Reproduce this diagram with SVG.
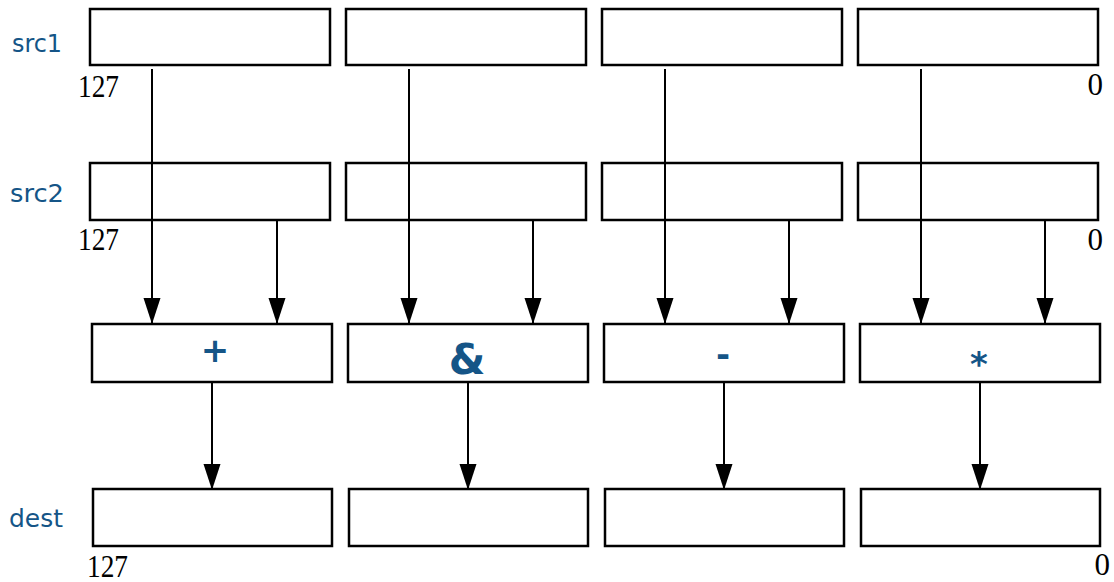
<svg xmlns="http://www.w3.org/2000/svg" width="1114" height="582" viewBox="0 0 1114 582">
  <style>
    .box { fill: #ffffff; stroke: #000000; stroke-width: 2.5; }
    .wire { stroke: #000000; stroke-width: 2; fill: none; }
    .lbl { font-family: "DejaVu Sans", "Noto Sans", sans-serif; font-size: 24px; fill: #155587; }
    .op { font-family: "DejaVu Sans", "Noto Sans", sans-serif; font-size: 34px; font-weight: bold; fill: #155587; text-anchor: middle; }
    .amp { font-size: 42px; }
    .bit { font-family: "Liberation Serif", "DejaVu Serif", serif; font-size: 31px; fill: #000000; }
  </style>
  <defs>
    <marker id="arrow" markerUnits="userSpaceOnUse" markerWidth="27" markerHeight="18" refX="26" refY="8.5" orient="auto">
      <path d="M0,0 L26,8.5 L0,17 Z" fill="#000000"/>
    </marker>
  </defs>

  <!-- row labels -->
  <g id="labels">
    <text class="lbl" x="12" y="52" textLength="50" lengthAdjust="spacingAndGlyphs">src1</text>
    <text class="lbl" x="10" y="202" textLength="54" lengthAdjust="spacingAndGlyphs">src2</text>
    <text class="lbl" x="9" y="527" textLength="54" lengthAdjust="spacingAndGlyphs">dest</text>
  </g>

  <!-- source operand 1 -->
  <g id="src1">
    <rect class="box" x="90" y="9" width="240" height="56"/>
    <rect class="box" x="346" y="9" width="240" height="56"/>
    <rect class="box" x="602" y="9" width="240" height="56"/>
    <rect class="box" x="858" y="9" width="240" height="56"/>
    <text class="bit" x="78" y="97" textLength="41" lengthAdjust="spacingAndGlyphs">127</text>
    <text class="bit" x="1103" y="95" text-anchor="end">0</text>
  </g>

  <!-- source operand 2 -->
  <g id="src2">
    <rect class="box" x="90" y="163" width="240" height="57"/>
    <rect class="box" x="346" y="163" width="240" height="57"/>
    <rect class="box" x="602" y="163" width="240" height="57"/>
    <rect class="box" x="858" y="163" width="240" height="57"/>
    <text class="bit" x="78" y="250" textLength="41" lengthAdjust="spacingAndGlyphs">127</text>
    <text class="bit" x="1103" y="250" text-anchor="end">0</text>
  </g>

  <!-- per-lane operations -->
  <g id="ops">
    <g id="op-add">
      <rect class="box" x="92" y="324" width="240" height="58"/>
      <text class="op" x="215" y="362">+</text>
    </g>
    <g id="op-and">
      <rect class="box" x="348" y="324" width="240" height="58"/>
      <text class="op amp" x="467" y="374">&amp;</text>
    </g>
    <g id="op-sub">
      <rect class="box" x="604" y="324" width="240" height="58"/>
      <text class="op" x="723" y="366">-</text>
    </g>
    <g id="op-mul">
      <rect class="box" x="860" y="324" width="240" height="58"/>
      <text class="op" x="979" y="376">*</text>
    </g>
  </g>

  <!-- destination -->
  <g id="dest">
    <rect class="box" x="93" y="489" width="239" height="57"/>
    <rect class="box" x="349" y="489" width="239" height="57"/>
    <rect class="box" x="605" y="489" width="239" height="57"/>
    <rect class="box" x="861" y="489" width="239" height="57"/>
    <text class="bit" x="87" y="577" textLength="41" lengthAdjust="spacingAndGlyphs">127</text>
    <text class="bit" x="1110" y="575" text-anchor="end">0</text>
  </g>

  <!-- connectors -->
  <g id="connectors">
    <line class="wire" x1="152" y1="69" x2="152" y2="324" marker-end="url(#arrow)"/>
    <line class="wire" x1="409" y1="69" x2="409" y2="324" marker-end="url(#arrow)"/>
    <line class="wire" x1="665" y1="69" x2="665" y2="324" marker-end="url(#arrow)"/>
    <line class="wire" x1="921" y1="69" x2="921" y2="324" marker-end="url(#arrow)"/>

    <line class="wire" x1="277" y1="220" x2="277" y2="324" marker-end="url(#arrow)"/>
    <line class="wire" x1="533" y1="220" x2="533" y2="324" marker-end="url(#arrow)"/>
    <line class="wire" x1="789" y1="220" x2="789" y2="324" marker-end="url(#arrow)"/>
    <line class="wire" x1="1045" y1="220" x2="1045" y2="324" marker-end="url(#arrow)"/>

    <line class="wire" x1="212" y1="382" x2="212" y2="490" marker-end="url(#arrow)"/>
    <line class="wire" x1="468" y1="382" x2="468" y2="490" marker-end="url(#arrow)"/>
    <line class="wire" x1="724" y1="382" x2="724" y2="490" marker-end="url(#arrow)"/>
    <line class="wire" x1="980" y1="382" x2="980" y2="490" marker-end="url(#arrow)"/>
  </g>
</svg>
